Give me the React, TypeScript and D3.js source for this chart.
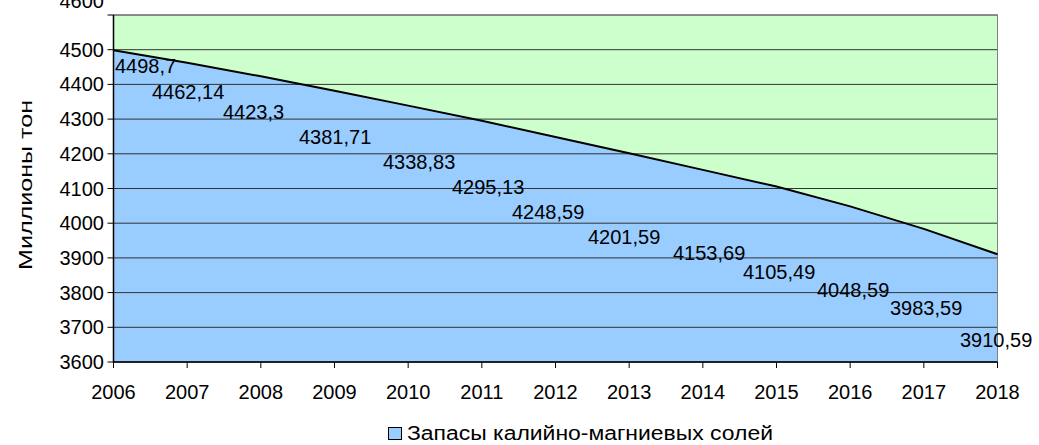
import React from "react";
import * as d3 from "d3";

const years = [2006, 2007, 2008, 2009, 2010, 2011, 2012, 2013, 2014, 2015, 2016, 2017, 2018];
const values = [4498.7, 4462.14, 4423.3, 4381.71, 4338.83, 4295.13, 4248.59, 4201.59, 4153.69, 4105.49, 4048.59, 3983.59, 3910.59];
const labelText = ["4498,7", "4462,14", "4423,3", "4381,71", "4338,83", "4295,13", "4248,59", "4201,59", "4153,69", "4105,49", "4048,59", "3983,59", "3910,59"];
const yTicks = [3600, 3700, 3800, 3900, 4000, 4100, 4200, 4300, 4400, 4500, 4600];
const seriesName = "Запасы калийно-магниевых солей";
const yTitle = "Миллионы тонн";

// label layout (left x of each data label, centre y)
const labelLeft = [115, 152, 223, 299, 383, 452, 512, 588, 673, 743, 817, 890, 960];
const labelMidY = [66, 92, 112, 137, 162, 187, 212, 237, 253, 272, 290, 308, 340];

const W = 1039, H = 445;
const L = 113.5, R = 997.5, T = 15, B = 362;

export default function App() {
  const x = d3.scaleLinear().domain([2006, 2018]).range([L, R]);
  const y = d3.scaleLinear().domain([3600, 4600]).range([B, T]);
  const data = years.map((yr, i) => ({ yr, v: values[i] }));
  const area = d3.area<{ yr: number; v: number }>().x(d => x(d.yr)).y0(B).y1(d => y(d.v));
  const line = d3.line<{ yr: number; v: number }>().x(d => x(d.yr)).y(d => y(d.v));
  const font = "'Liberation Sans', Arial, sans-serif";
  return (
    <svg width={W} height={H} style={{ position: "absolute", left: 0, top: 0, background: "#fff" }} fontFamily={font}>
      <defs>
        <clipPath id="ytc"><rect x={0} y={99} width={60} height={300} /></clipPath>
      </defs>
      <rect x={L} y={T} width={R - L} height={B - T} fill="#CCFFCC" />
      <path d={area(data) || ""} fill="#99CCFF" />
      {yTicks.map(t => (
        <line key={t} x1={L} x2={R} y1={y(t)} y2={y(t)} stroke="#333" strokeWidth={1} />
      ))}
      <rect x={L} y={T} width={R - L} height={B - T} fill="none" stroke="#808080" strokeWidth={1} />
      <path d={line(data) || ""} fill="none" stroke="#000" strokeWidth={2} />
      <line x1={L} x2={L} y1={T} y2={B} stroke="#000" strokeWidth={1.5} />
      <line x1={L} x2={R} y1={B} y2={B} stroke="#000" strokeWidth={1.5} />
      {yTicks.map(t => (
        <g key={"yt" + t}>
          <line x1={L - 6} x2={L} y1={y(t)} y2={y(t)} stroke="#000" />
          <text x={104} y={t === 4600 ? 1 : y(t)} dy="0.35em" textAnchor="end" fontSize={20} fill="#000">{t}</text>
        </g>
      ))}
      {years.map(yr => (
        <g key={"xt" + yr}>
          <line x1={x(yr)} x2={x(yr)} y1={B} y2={B + 6} stroke="#000" />
          <text x={x(yr)} y={392} dy="0.35em" textAnchor="middle" fontSize={20} fill="#000">{yr}</text>
        </g>
      ))}
      {years.map((yr, i) => (
        <text key={"lb" + yr} x={labelLeft[i]} y={labelMidY[i]} dy="0.35em" fontSize={20} fill="#000">{labelText[i]}</text>
      ))}
      <g clipPath="url(#ytc)">
        <text transform="translate(32,270) rotate(-90)" fontSize={19} textLength={184} lengthAdjust="spacingAndGlyphs" fill="#000">{yTitle}</text>
      </g>
      <rect x={388.5} y={427.5} width={13} height={12} fill="#99CCFF" stroke="#000" strokeWidth={1} />
      <text x={407} y={440} fontSize={20} textLength={366} lengthAdjust="spacingAndGlyphs" fill="#000">{seriesName}</text>
    </svg>
  );
}
